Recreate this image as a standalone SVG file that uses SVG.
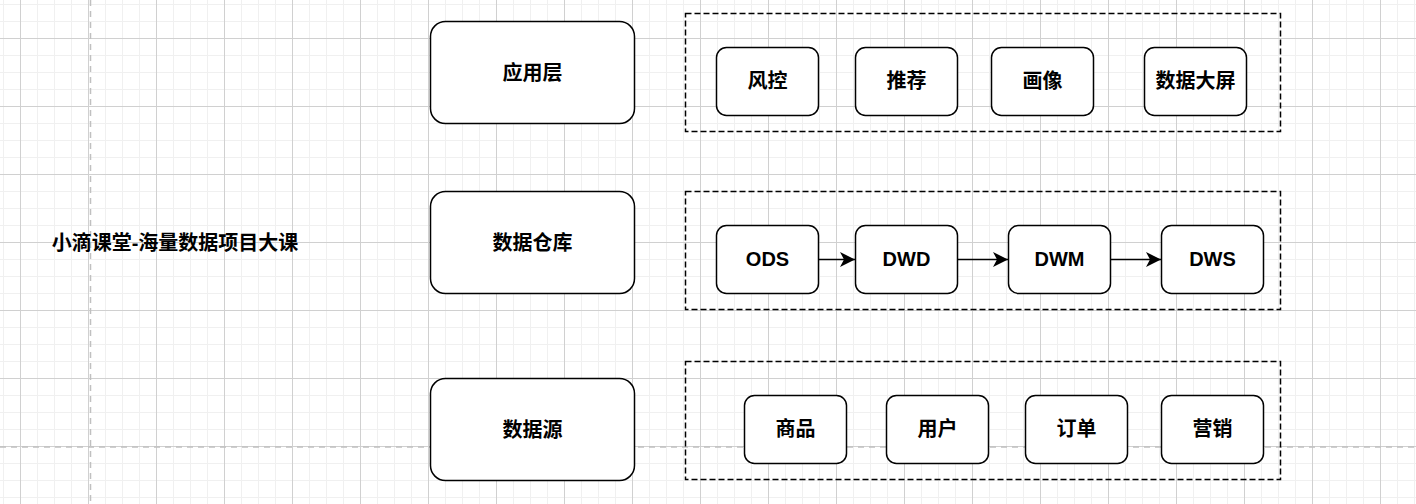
<svg xmlns="http://www.w3.org/2000/svg" width="1416" height="504" viewBox="0 0 1416 504">
<defs>
<pattern id="grid" x="20" y="38" width="68" height="68" patternUnits="userSpaceOnUse">
<path d="M17.5 0V68M34.5 0V68M51.5 0V68M0 17.5H68M0 34.5H68M0 51.5H68" stroke="#f0f0f0" stroke-width="1" fill="none"/>
<path d="M0.5 0V68M0 0.5H68" stroke="#d0d0d0" stroke-width="1" fill="none"/>
</pattern>
<marker id="arr" markerUnits="userSpaceOnUse" markerWidth="16" markerHeight="15" refX="15" refY="7.5" orient="auto">
<path d="M0,0 L15,7.5 L0,15 L4,7.5 Z" fill="#000"/>
</marker>
<style>
.n{fill:#fff;stroke:#000;stroke-width:1.5}
.c{fill:none;stroke:#000;stroke-width:1.5;stroke-dasharray:6 3}
.t{font-family:"Liberation Sans","Noto Sans CJK SC",sans-serif;font-weight:bold;font-size:20px;fill:#000;text-anchor:middle;dominant-baseline:central}
.e{stroke:#000;stroke-width:1.5;fill:none;marker-end:url(#arr)}
.pg{stroke:#c0c0c0;stroke-width:1.5;stroke-dasharray:6 5;fill:none}
</style>
</defs>
<rect width="1416" height="504" fill="#fff"/>
<rect width="1416" height="504" fill="url(#grid)"/>
<path class="pg" d="M90.5 0V504M0 447H1416"/>

<g id="title"><text class="t" x="175" y="243">小滴课堂-海量数据项目大课</text></g>

<g id="layer-app"><rect class="n" x="430.5" y="21.5" width="204" height="102" rx="15"/><text class="t" x="532.5" y="72.5">应用层</text></g>
<g id="layer-dw"><rect class="n" x="430.5" y="191.5" width="204" height="102" rx="15"/><text class="t" x="532.5" y="242.5">数据仓库</text></g>
<g id="layer-src"><rect class="n" x="430.5" y="378.5" width="204" height="102" rx="15"/><text class="t" x="532.5" y="429.5">数据源</text></g>

<g id="box-app"><rect class="c" x="685.5" y="13.5" width="595" height="118"/></g>
<g id="box-dw"><rect class="c" x="685.5" y="191.5" width="595" height="118"/></g>
<g id="box-src"><rect class="c" x="685.5" y="361.5" width="595" height="118"/></g>

<g id="fengkong"><rect class="n" x="716.5" y="47.5" width="102" height="68" rx="10"/><text class="t" x="767.5" y="81">风控</text></g>
<g id="tuijian"><rect class="n" x="855.5" y="47.5" width="102" height="68" rx="10"/><text class="t" x="906.5" y="81">推荐</text></g>
<g id="huaxiang"><rect class="n" x="991.5" y="47.5" width="102" height="68" rx="10"/><text class="t" x="1042.5" y="81">画像</text></g>
<g id="dapin"><rect class="n" x="1144.5" y="47.5" width="102" height="68" rx="10"/><text class="t" x="1195.5" y="81">数据大屏</text></g>

<g id="ods"><rect class="n" x="716.5" y="225.5" width="102" height="68" rx="10"/><text class="t" x="767.5" y="259">ODS</text></g>
<g id="dwd"><rect class="n" x="855.5" y="225.5" width="102" height="68" rx="10"/><text class="t" x="906.5" y="259">DWD</text></g>
<g id="dwm"><rect class="n" x="1008.5" y="225.5" width="102" height="68" rx="10"/><text class="t" x="1059.5" y="259">DWM</text></g>
<g id="dws"><rect class="n" x="1161.5" y="225.5" width="102" height="68" rx="10"/><text class="t" x="1212.5" y="259">DWS</text></g>

<g id="shangpin"><rect class="n" x="744.5" y="395.5" width="102" height="68" rx="10"/><text class="t" x="795.5" y="429">商品</text></g>
<g id="yonghu"><rect class="n" x="886.5" y="395.5" width="102" height="68" rx="10"/><text class="t" x="937.5" y="429">用户</text></g>
<g id="dingdan"><rect class="n" x="1025.5" y="395.5" width="102" height="68" rx="10"/><text class="t" x="1076.5" y="429">订单</text></g>
<g id="yingxiao"><rect class="n" x="1161.5" y="395.5" width="102" height="68" rx="10"/><text class="t" x="1212.5" y="429">营销</text></g>

<g id="connectors">
<path class="e" d="M818.5 259.5H855"/>
<path class="e" d="M957.5 259.5H1008"/>
<path class="e" d="M1110.5 259.5H1161"/>
</g>
</svg>
